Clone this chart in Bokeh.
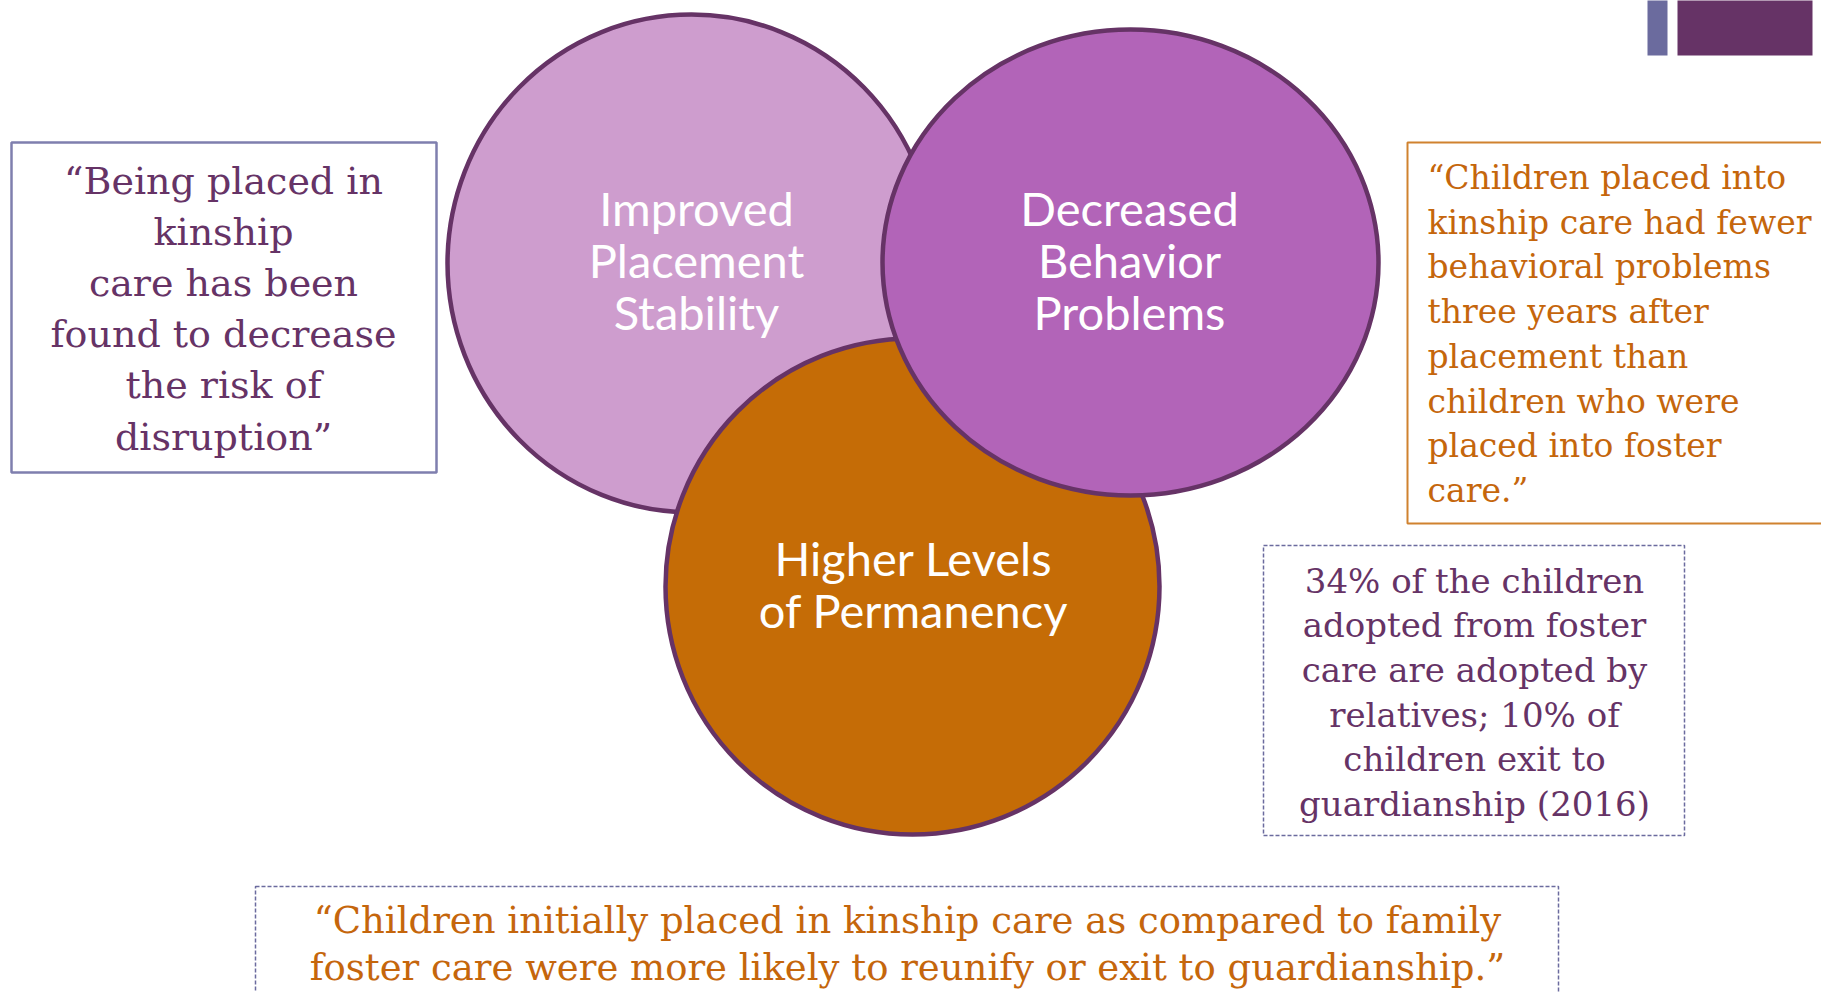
from bokeh.plotting import figure
from bokeh.models import Range1d
from bokeh.core.properties import value
from bokeh.embed import file_html
from bokeh.resources import INLINE

# ---- content ----
circle_labels = [
    ["Improved", "Placement", "Stability"],
    ["Higher Levels", "of Permanency"],
    ["Decreased", "Behavior", "Problems"],
]
circle_fills = ["#CE9DCE", "#C56C06", "#B264B8"]
circle_cx = [691, 912, 1130]
circle_cy = [263, 586, 262]
circle_w = [488, 494, 496]
circle_h = [498, 496, 466]
circle_text_cx = [696, 913, 1129]
circle_text_y0 = [207, 557, 207]

left_quote = ["\u201cBeing placed in", "kinship", "care has been",
              "found to decrease", "the risk of", "disruption\u201d"]
right_quote = ["\u201cChildren placed into", "kinship care had fewer",
               "behavioral problems", "three years after",
               "placement than", "children who were",
               "placed into foster", "care.\u201d"]
stat_box = ["34% of the children", "adopted from foster",
            "care are adopted by", "relatives; 10% of",
            "children exit to", "guardianship (2016)"]
bottom_quote = ["\u201cChildren initially placed in kinship care as compared to family",
                "foster care were more likely to reunify or exit to guardianship.\u201d"]

PURPLE = "#663366"
ORANGE = "#C5660C"
LAV = "#6B6B9E"

W, H = 1821, 992
p = figure(width=W, height=H, output_backend="svg", toolbar_location=None,
           x_range=Range1d(0, W), y_range=Range1d(H, 0),
           min_border=0)
p.axis.visible = False
p.grid.visible = False
p.outline_line_color = None
p.background_fill_color = "white"
p.border_fill_color = "white"

# top-right decoration bars
p.quad(left=[1647, 1677], right=[1667, 1812], top=[-5, -5], bottom=[55, 55],
       fill_color=[LAV, PURPLE], line_color=None)

# boxes
p.quad(left=11, right=436, top=142, bottom=472, fill_color=None,
       line_color="#7F7FAE", line_width=2.5)
p.quad(left=1407, right=1850, top=142, bottom=523, fill_color=None,
       line_color="#D0822F", line_width=2)
p.quad(left=1263, right=1684, top=545, bottom=835, fill_color=None,
       line_color=LAV, line_width=1.5, line_dash="4 2")
p.quad(left=255, right=1558, top=886, bottom=1030, fill_color=None,
       line_color=LAV, line_width=1.5, line_dash="4 2")

# circles (draw order: left, bottom, right)
for i in range(3):
    p.ellipse(x=circle_cx[i], y=circle_cy[i], width=circle_w[i], height=circle_h[i],
              fill_color=circle_fills[i], line_color=PURPLE, line_width=4.5)
    n = len(circle_labels[i])
    ys = [circle_text_y0[i] + k * 52 for k in range(n)]
    p.text(x=[circle_text_cx[i]] * n, y=ys, text=circle_labels[i],
           text_color="white", text_font=value("Lato"), text_font_size="47px",
           text_align="center", text_baseline="middle")

SERIF = value("DejaVu Serif")

def lines(xs, y0, dy, txt, color, size, align):
    n = len(txt)
    p.text(x=[xs] * n, y=[y0 + k * dy for k in range(n)], text=txt,
           text_color=color, text_font=SERIF, text_font_size=size,
           text_align=align, text_baseline="middle")

lines(223, 180, 51.2, left_quote, PURPLE, "38px", "center")
lines(1427, 177, 44.7, right_quote, ORANGE, "33px", "left")
lines(1474, 580, 44.7, stat_box, PURPLE, "34px", "center")
lines(907, 920, 47, bottom_quote, ORANGE, "37px", "center")

open("out.html", "w").write(file_html(p, INLINE))
